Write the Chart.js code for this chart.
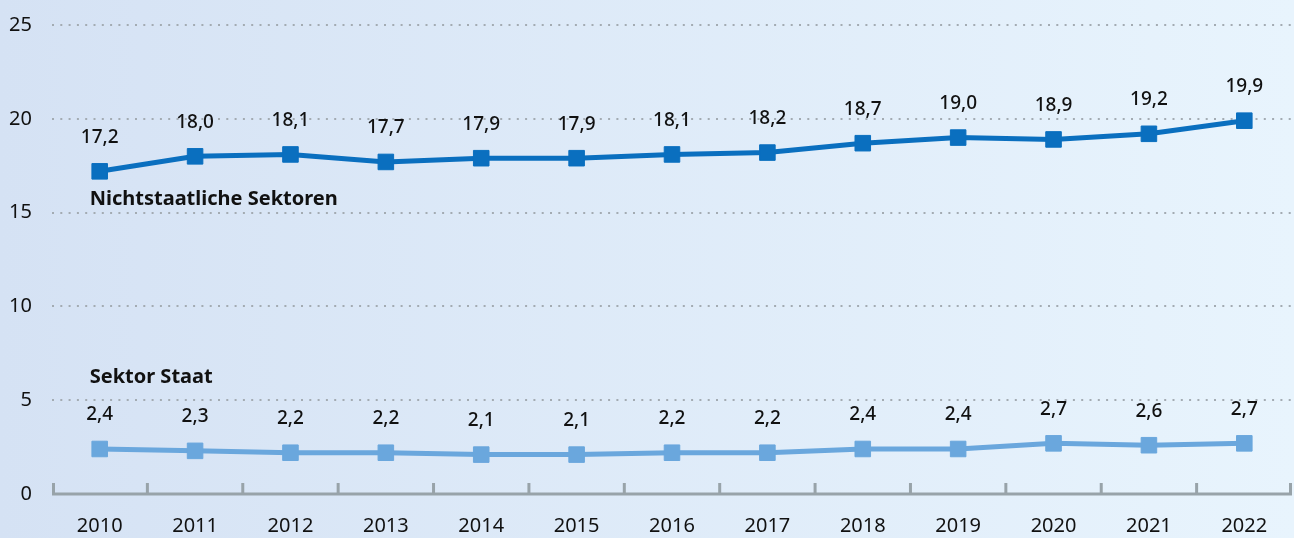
<!DOCTYPE html>
<html>
<head>
<meta charset="utf-8">
<script src="https://cdn.jsdelivr.net/npm/chart.js@4"></script>
<style>
  html, body { margin: 0; padding: 0; }
  #wrap { width: 1294px; height: 538px; position: relative; }
</style>
</head>
<body>
<div id="wrap"><canvas id="c" width="1294" height="538"></canvas></div>
<script>
const years = ['2010','2011','2012','2013','2014','2015','2016','2017','2018','2019','2020','2021','2022'];
const nichtstaatlich = [17.2, 18.0, 18.1, 17.7, 17.9, 17.9, 18.1, 18.2, 18.7, 19.0, 18.9, 19.2, 19.9];
const staat = [2.4, 2.3, 2.2, 2.2, 2.1, 2.1, 2.2, 2.2, 2.4, 2.4, 2.7, 2.6, 2.7];
const seriesNames = ['Nichtstaatliche Sektoren', 'Sektor Staat'];
const seriesNameAt = [15.7, 6.2];   // y value where each series name sits
const yTicks = [0, 5, 10, 15, 20, 25];

const FONT = '"Noto Sans", "Open Sans", sans-serif';

const bgPlugin = {
  id: 'bg',
  beforeDraw(chart) {
    const ctx = chart.ctx;
    const g = ctx.createLinearGradient(0, 0, chart.width, 0);
    g.addColorStop(0, '#d5e2f4');
    g.addColorStop(1, '#e8f4fd');
    ctx.save();
    ctx.fillStyle = g;
    ctx.fillRect(0, 0, chart.width, chart.height);
    ctx.restore();
  }
};

const axisPlugin = {
  id: 'axisTicks',
  afterDatasetsDraw(chart) {
    const ctx = chart.ctx;
    const xs = chart.scales.x;
    const ys = chart.scales.y;
    const y0 = ys.getPixelForValue(0);
    ctx.save();
    ctx.strokeStyle = '#98a3a9';
    ctx.lineWidth = 3;
    ctx.beginPath();
    ctx.moveTo(xs.left, y0);
    ctx.lineTo(xs.right, y0);
    ctx.stroke();
    const n = years.length;
    const step = (xs.right - xs.left) / n;
    for (let i = 0; i <= n; i++) {
      let x = xs.left + i * step;
      if (i === 0) x += 1.5;
      if (i === n) x -= 1.5;
      ctx.beginPath();
      ctx.moveTo(x, y0);
      ctx.lineTo(x, y0 - 11);
      ctx.stroke();
    }
    ctx.restore();
  }
};

const labelPlugin = {
  id: 'valueLabels',
  afterDatasetsDraw(chart) {
    const ctx = chart.ctx;
    ctx.save();
    ctx.fillStyle = '#111111';
    ctx.font = '500 19px ' + FONT;
    ctx.textAlign = 'center';
    ctx.textBaseline = 'middle';
    chart.data.datasets.forEach((ds, di) => {
      const meta = chart.getDatasetMeta(di);
      meta.data.forEach((pt, i) => {
        const txt = ds.data[i].toFixed(1).replace('.', ',');
        ctx.fillText(txt, pt.x, pt.y - 34);
      });
    });
    const xs = chart.scales.x;
    const ys = chart.scales.y;
    ctx.font = 'bold 20px ' + FONT;
    ctx.textAlign = 'left';
    seriesNames.forEach((name, i) => {
      ctx.fillText(name, xs.getPixelForValue(0) - 10, ys.getPixelForValue(seriesNameAt[i]));
    });
    ctx.restore();
  }
};

new Chart(document.getElementById('c'), {
  type: 'line',
  data: {
    labels: years,
    datasets: [
      {
        label: seriesNames[0],
        data: nichtstaatlich,
        borderColor: '#0a6fbf',
        backgroundColor: '#0a6fbf',
        borderWidth: 5,
        pointStyle: 'rect',
        pointRadius: 11,
        pointBorderWidth: 1,
        pointBorderColor: '#0a6fbf',
        pointBackgroundColor: '#0a6fbf',
        tension: 0
      },
      {
        label: seriesNames[1],
        data: staat,
        borderColor: '#6aa7dd',
        backgroundColor: '#6aa7dd',
        borderWidth: 5,
        pointStyle: 'rect',
        pointRadius: 11,
        pointBorderWidth: 1,
        pointBorderColor: '#6aa7dd',
        pointBackgroundColor: '#6aa7dd',
        tension: 0
      }
    ]
  },
  options: {
    responsive: false,
    animation: false,
    devicePixelRatio: 1,
    layout: { autoPadding: false, padding: { top: 25, right: 2, bottom: 0, left: 0 } },
    plugins: {
      legend: { display: false },
      tooltip: { enabled: false }
    },
    scales: {
      x: {
        type: 'category',
        offset: true,
        grid: { display: false, drawTicks: false },
        border: { display: false },
        ticks: {
          color: '#111111',
          font: { family: FONT, size: 20 },
          padding: 20,
          maxRotation: 0,
          autoSkip: false
        },
        afterFit(scale) {
          scale.height = 44;
          scale.paddingLeft = 0; scale.paddingRight = 0;
          scale.paddingTop = 0; scale.paddingBottom = 0;
        }
      },
      y: {
        min: 0,
        max: 25,
        afterBuildTicks(scale) { scale.ticks = yTicks.map(v => ({ value: v })); },
        grid: {
          drawTicks: false,
          color: ctx => ctx.tick && ctx.tick.value === 0 ? 'rgba(0,0,0,0)' : '#a3abb2',
          lineWidth: 2,
        },
        border: { display: false, dash: [2, 6.3] },
        ticks: {
          color: '#111111',
          font: { family: FONT, size: 20 },
          padding: 20
        },
        afterFit(scale) {
          scale.width = 52;
          scale.paddingTop = 0; scale.paddingBottom = 0;
          scale.paddingLeft = 0; scale.paddingRight = 0;
        }
      }
    }
  },
  plugins: [bgPlugin, axisPlugin, labelPlugin]
});
</script>
</body>
</html>
